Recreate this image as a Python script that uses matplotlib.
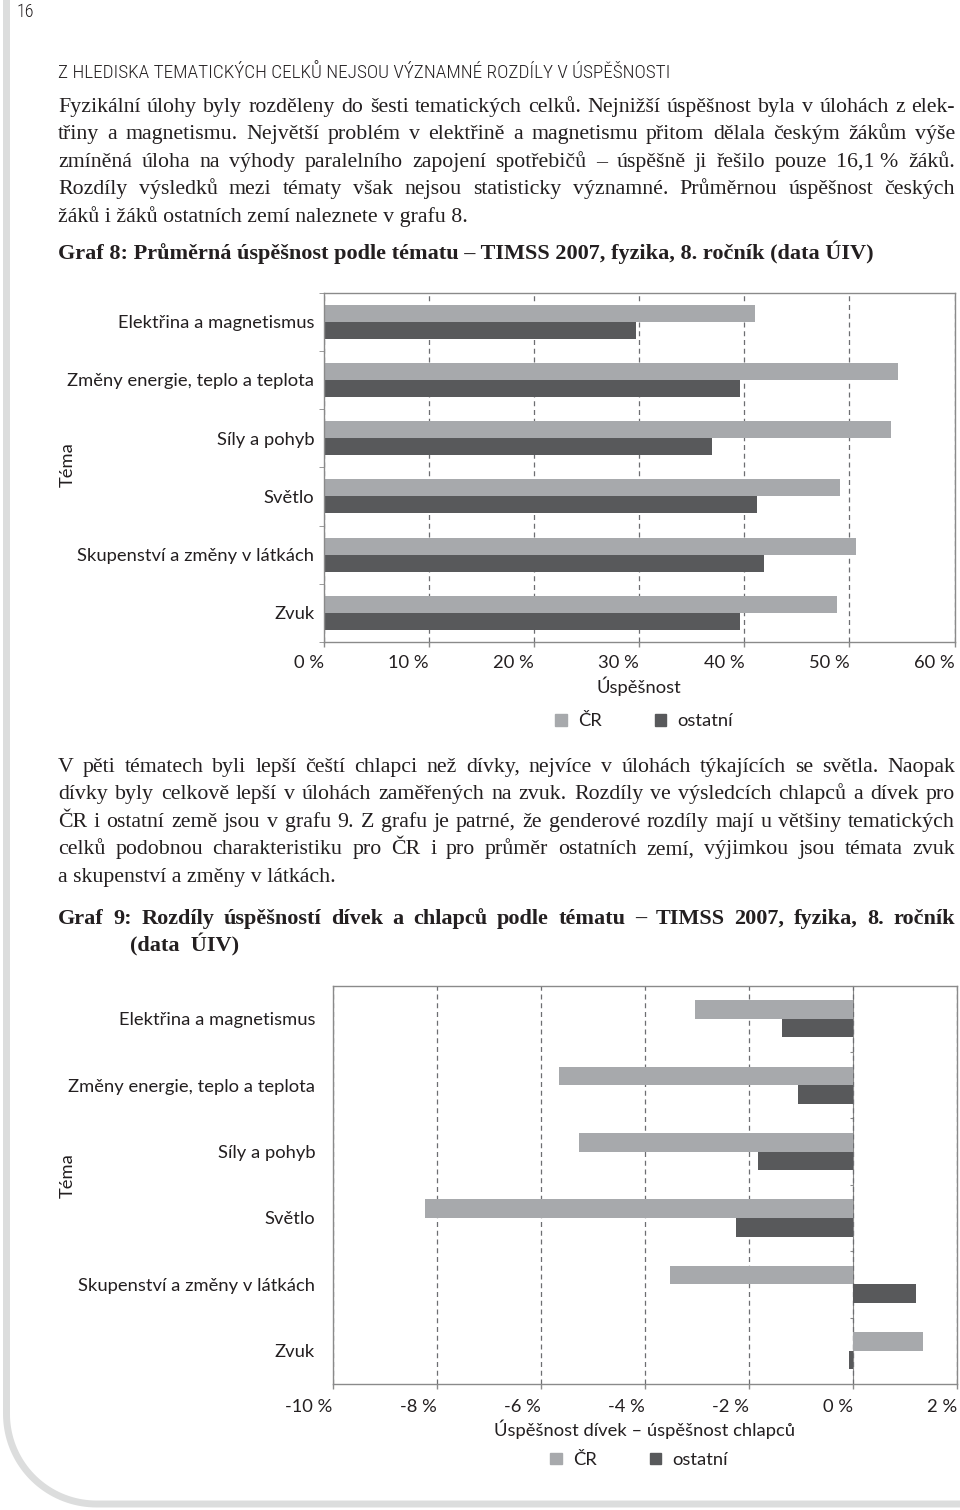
import numpy as np
import matplotlib
matplotlib.use("Agg")
import matplotlib.pyplot as plt
from matplotlib.lines import Line2D
from matplotlib.patches import Patch

W, H = 960, 1510

# ---- data ----
topics = ["Elektřina a magnetismus", "Změny energie, teplo a teplota", "Síly a pohyb",
          "Světlo", "Skupenství a změny v látkách", "Zvuk"]
series = ["ČR", "ostatní"]
cr_success = [41.0, 54.6, 54.0, 49.1, 50.6, 48.8]
other_success = [29.7, 39.6, 36.9, 41.2, 41.9, 39.6]
cr_gap = [-3.04, -5.65, -5.27, -8.22, -3.51, 1.34]
other_gap = [-1.37, -1.06, -1.82, -2.24, 1.21, -0.08]
ticks1 = [0, 10, 20, 30, 40, 50, 60]
ticks2 = [-10, -8, -6, -4, -2, 0, 2]

heading = "Z HLEDISKA TEMATICKÝCH CELKŮ NEJSOU VÝZNAMNÉ ROZDÍLY V ÚSPĚŠNOSTI"
para1 = ["Fyzikální úlohy byly rozděleny do šesti tematických celků. Nejnižší úspěšnost byla v úlohách z elek-",
         "třiny a magnetismu. Největší problém v elektřině a magnetismu přitom dělala českým žákům výše",
         "zmíněná úloha na výhody paralelního zapojení spotřebičů – úspěšně ji řešilo pouze 16,1\u00a0% žáků.",
         "Rozdíly výsledků mezi tématy však nejsou statisticky významné. Průměrnou úspěšnost českých",
         "žáků i žáků ostatních zemí naleznete v grafu 8."]
para2 = ["V pěti tématech byli lepší čeští chlapci než dívky, nejvíce v úlohách týkajících se světla. Naopak",
         "dívky byly celkově lepší v úlohách zaměřených na zvuk. Rozdíly ve výsledcích chlapců a dívek pro",
         "ČR i ostatní země jsou v grafu 9. Z grafu je patrné, že genderové rozdíly mají u většiny tematických",
         "celků podobnou charakteristiku pro ČR i pro průměr ostatních zemí, výjimkou jsou témata zvuk",
         "a skupenství a změny v látkách."]
cap8 = "Graf 8: Průměrná úspěšnost podle tématu – TIMSS 2007, fyzika, 8. ročník (data ÚIV)"
cap9 = ["Graf 9: Rozdíly úspěšností dívek a chlapců  podle  tématu – TIMSS 2007, fyzika, 8. ročník",
        "(data  ÚIV)"]

LIGHT = "#a7a9ac"
DARK = "#58595b"
INK = "#231f20"
FRAME = "#8a8a8a"
SANS = ["Lato", "DejaVu Sans"]
SERIF = ["Liberation Serif", "DejaVu Serif"]
NARROW = ["Liberation Sans Narrow", "Roboto Condensed", "Open Sans Condensed", "Roboto", "DejaVu Sans"]
CFS = 13.2

fig = plt.figure(figsize=(W / 100, H / 100), dpi=100)
renderer = fig.canvas.get_renderer()


def fx(x):
    return x / W


def fy(y):
    return 1 - y / H


def width_of(txt, **kw):
    t = fig.text(0, 0, txt, **kw)
    w = t.get_window_extent(renderer).width
    t.remove()
    return w


def put_line(text, x0, y, x1=None, **kw):
    if x1 is None:
        return fig.text(fx(x0), fy(y), text, va="baseline", **kw)
    words = [w for w in text.split(" ") if w]
    arts = [fig.text(0, fy(y), w, va="baseline", **kw) for w in words]
    ws = [a.get_window_extent(renderer).width for a in arts]
    gap = (x1 - x0 - sum(ws)) / (len(arts) - 1)
    x = x0
    for a, w in zip(arts, ws):
        a.set_x(fx(x))
        x += w + gap


# page frame decoration
r, xl, yb = 90, 6.5, 1504
t = np.linspace(0, np.pi / 2, 40)
bx = np.concatenate([[xl], xl + r - r * np.cos(t), [W + 5]])
by = np.concatenate([[-5], yb - r + r * np.sin(t), [yb]])
fig.add_artist(Line2D(bx / W, 1 - by / H, transform=fig.transFigure,
                      lw=5, color="#dcdddd", solid_capstyle="butt"))

fig.text(fx(17), fy(17), "16", family=NARROW, fontsize=13, color=INK, va="baseline",
         weight="light")

# heading fitted to its printed width
head_kw = dict(family=NARROW, color=INK, weight="light")
hfs = 15 * 614 / width_of(heading, fontsize=15, **head_kw)
put_line(heading, 58, 78, fontsize=hfs, **head_kw)

# body text
body_kw = dict(family=SERIF, color=INK)
widest = max(width_of(l, fontsize=13, **body_kw) for l in para1[:-1] + para2[:-1])
bfs = 13 * 880 / widest
for i, line in enumerate(para1):
    put_line(line, 58, 112 + 27.4 * i, None if i == len(para1) - 1 else 955, fontsize=bfs, **body_kw)
for i, line in enumerate(para2):
    put_line(line, 58, 772 + 27.4 * i, None if i == len(para2) - 1 else 955, fontsize=bfs, **body_kw)

cap_kw = dict(family=SERIF, color=INK, weight="bold")
cfs = 14 * 817 / width_of(cap8, fontsize=14, **cap_kw)
put_line(cap8, 58, 259, fontsize=cfs, **cap_kw)
put_line(cap9[0], 58, 924, 955, fontsize=cfs, **cap_kw)
put_line(cap9[1], 130, 951, fontsize=cfs, **cap_kw)

pos = np.arange(len(topics))


def style_axes(ax, ticks, pad_y):
    for s in ax.spines.values():
        s.set_color(FRAME)
        s.set_linewidth(1)
    ax.set_ylim(len(topics) - 0.5, -0.5)
    ax.set_xlim(ticks[0], ticks[-1])
    ax.set_xticks(ticks, [f"{v} %" for v in ticks], ha="right")
    ax.set_yticks(pos, topics)
    ax.tick_params(axis="y", which="major", length=0, pad=pad_y, labelsize=CFS, labelcolor=INK)
    ax.tick_params(axis="x", direction="out", length=3.6, width=1, color=FRAME,
                   labelsize=CFS, labelcolor=INK)
    for lab in ax.get_xticklabels() + ax.get_yticklabels():
        lab.set_family(SANS)
    ax.grid(axis="x", ls=(0, (4, 3)), color="#6d6e71", lw=0.9)
    ax.set_axisbelow(True)


# ---- Graf 8 ----
ax1 = fig.add_axes([fx(323.5), fy(642), (954.5 - 323.5) / W, (642 - 292.5) / H])
h1 = 0.29
ax1.barh(pos - h1 / 2, cr_success, height=h1, color=LIGHT, label=series[0])
ax1.barh(pos + h1 / 2, other_success, height=h1, color=DARK, label=series[1])
style_axes(ax1, ticks1, 6.5)
ax1.set_yticks(np.arange(len(topics) + 1) - 0.5, minor=True)
ax1.tick_params(axis="y", which="minor", direction="out", length=3.5, color=FRAME)
ax1.tick_params(axis="x", pad=5.5)
ax1.set_xlabel("Úspěšnost", family=SANS, fontsize=CFS, color=INK, labelpad=4)
fig.text(fx(67.5), fy(465), "Téma", rotation=90, ha="center", va="center",
         family=SANS, fontsize=CFS, color=INK)

# ---- Graf 9 ----
ax2 = fig.add_axes([fx(332.5), fy(1384), (957 - 332.5) / W, (1384 - 985.6) / H])
h2 = 0.28
ax2.barh(pos - h2 / 2, cr_gap, height=h2, color=LIGHT, label=series[0])
ax2.barh(pos + h2 / 2, other_gap, height=h2, color=DARK, label=series[1])
style_axes(ax2, ticks2, 12.5)
ax2.tick_params(axis="x", pad=7)
zero = ax2.secondary_yaxis((0 - ticks2[0]) / (ticks2[-1] - ticks2[0]))
zero.set_yticks(pos[:-1] + 0.5)
zero.tick_params(direction="in", length=2.5, color=FRAME, labelright=False, labelleft=False)
zero.spines["right"].set_color(FRAME)
zero.spines["left"].set_color(FRAME)
ax2.set_xlabel("Úspěšnost dívek – úspěšnost chlapců", family=SANS, fontsize=CFS,
               color=INK, labelpad=3.5)
fig.text(fx(67.5), fy(1176), "Téma", rotation=90, ha="center", va="center",
         family=SANS, fontsize=CFS, color=INK)

# legends
leg_kw = dict(loc="center", frameon=False, ncol=2, handlelength=0.62, handleheight=0.62,
              handletextpad=0.6, columnspacing=2.9,
              prop=dict(family=SANS, size=CFS))
handles = [Patch(color=LIGHT, label=series[0]), Patch(color=DARK, label=series[1])]
for lg in (fig.legend(handles=handles, bbox_to_anchor=(fx(644), fy(721.5)), **leg_kw),
           fig.legend(handles=handles, bbox_to_anchor=(fx(639), fy(1460)), **leg_kw)):
    for tx in lg.get_texts():
        tx.set_color(INK)

fig.savefig("out.png", dpi=100)
